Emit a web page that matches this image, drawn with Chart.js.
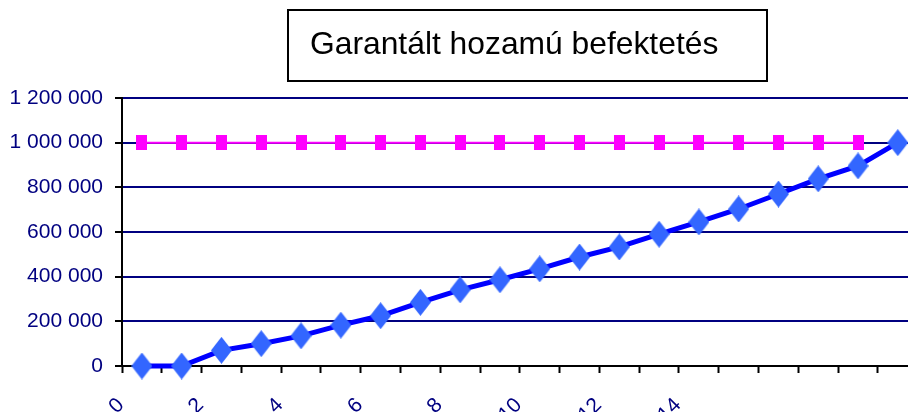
<!DOCTYPE html>
<html>
<head>
<meta charset="utf-8">
<script src="https://cdn.jsdelivr.net/npm/chart.js@4.4.1/dist/chart.umd.min.js"></script>
<style>
  html, body { margin: 0; padding: 0; background: #fff; overflow: hidden; }
  #wrap { position: relative; width: 908px; height: 412px; overflow: hidden; background: #fff; }
  canvas { display: block; }
</style>
</head>
<body>
<div id="wrap"><canvas id="chart" width="936" height="450"></canvas></div>
<script>
// Chart text and data
const chartTitle = 'Garantált hozamú befektetés';

// Periods (category axis)
const periods = [0, 1, 2, 3, 4, 5, 6, 7, 8, 9, 10, 11, 12, 13, 14, 15, 16, 17, 18, 19];

// Labels printed under the category axis
const tickLabels = ['0', '', '2', '', '4', '', '6', '', '8', '', '10', '', '12', '', '14', '', '', '', '', ''];

// Accumulated value of the investment
const investmentValue = [0, 0, 70000, 100000, 135000, 183000, 225000, 285000, 341000, 386000,
                         435000, 488000, 533000, 590000, 645000, 703000, 770000, 838000, 896000, 1000000];

// Guaranteed amount
const guaranteedAmount = [1000000, 1000000, 1000000, 1000000, 1000000, 1000000, 1000000, 1000000, 1000000, 1000000,
                          1000000, 1000000, 1000000, 1000000, 1000000, 1000000, 1000000, 1000000, 1000000, null];

// Value axis range
const yMin = 0;
const yMax = 1200000;
const yStep = 200000;

const NAVY = '#000080';
const AXIS_FONT = { family: '"Liberation Sans", Arial, sans-serif', size: 21 };

// Marker shapes
function makeDiamond(w, h, color) {
  const c = document.createElement('canvas');
  c.width = w; c.height = h;
  const g = c.getContext('2d');
  g.fillStyle = color;
  g.beginPath();
  g.moveTo(w / 2, 0);
  g.lineTo(w, h / 2);
  g.lineTo(w / 2, h);
  g.lineTo(0, h / 2);
  g.closePath();
  g.fill();
  return c;
}
function makeRect(w, h, color) {
  const c = document.createElement('canvas');
  c.width = w; c.height = h;
  const g = c.getContext('2d');
  g.fillStyle = color;
  g.fillRect(0, 0, w, h);
  return c;
}
const diamondMarker = makeDiamond(21, 27, '#3366FF');
const squareMarker = makeRect(11, 15, '#FF00FF');

function formatThousands(v) {
  return String(v).replace(/\B(?=(\d{3})+(?!\d))/g, ' ');
}

// Boxed title drawn above the plot
const titleBox = {
  id: 'titleBox',
  afterDraw(chart, args, opts) {
    const ctx = chart.ctx;
    ctx.save();
    ctx.lineWidth = 2;
    ctx.strokeStyle = '#000';
    ctx.strokeRect(opts.box[0], opts.box[1], opts.box[2], opts.box[3]);
    ctx.fillStyle = '#000';
    ctx.font = opts.font;
    ctx.textAlign = 'left';
    ctx.textBaseline = 'alphabetic';
    ctx.fillText(chartTitle, opts.textX, opts.textY);
    ctx.restore();
  }
};

new Chart(document.getElementById('chart'), {
  type: 'line',
  data: {
    labels: periods,
    datasets: [
      {
        label: 'Befektetés értéke',
        data: investmentValue,
        borderColor: '#0000FF',
        borderWidth: 5,
        pointStyle: diamondMarker,
        pointRadius: 10,
        tension: 0,
        clip: false
      },
      {
        label: 'Garantált összeg',
        data: guaranteedAmount,
        borderColor: '#FF00FF',
        borderWidth: 2,
        pointStyle: squareMarker,
        pointRadius: 7,
        tension: 0,
        clip: false
      }
    ]
  },
  options: {
    responsive: false,
    animation: false,
    devicePixelRatio: 1,
    layout: { padding: { top: 98, right: 11, bottom: 0, left: 0 } },
    plugins: {
      legend: { display: false },
      tooltip: { enabled: false },
      title: { display: false },
      titleBox: {
        box: [288, 10, 479, 71],
        textX: 310,
        textY: 54,
        font: '31.8px "Liberation Sans", Arial, sans-serif'
      }
    },
    scales: {
      x: {
        type: 'category',
        offset: true,
        grid: {
          offset: true,
          drawOnChartArea: false,
          drawTicks: true,
          tickLength: 7,
          tickColor: '#000',
          tickWidth: 2
        },
        border: { color: '#000', width: 2 },
        ticks: {
          autoSkip: false,
          minRotation: 45,
          maxRotation: 45,
          padding: 20,
          labelOffset: -21,
          color: NAVY,
          font: AXIS_FONT,
          callback: (v, i) => tickLabels[i]
        },
        afterFit: (s) => { s.height = 84; }
      },
      y: {
        min: yMin,
        max: yMax,
        grid: {
          color: NAVY,
          lineWidth: 2,
          tickLength: 7,
          tickColor: '#000',
          tickWidth: 2
        },
        border: { color: '#000', width: 2 },
        ticks: {
          stepSize: yStep,
          padding: 12,
          color: NAVY,
          font: AXIS_FONT,
          callback: (v) => formatThousands(v)
        },
        afterFit: (s) => { s.width = 122; }
      }
    }
  },
  plugins: [titleBox]
});
</script>
</body>
</html>
